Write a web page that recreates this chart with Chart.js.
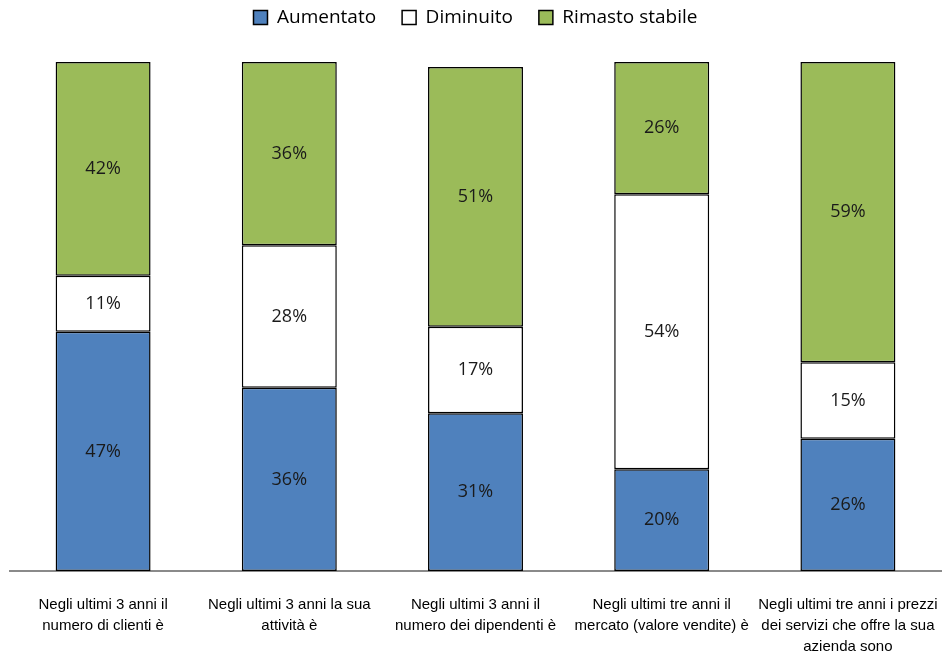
<!DOCTYPE html>
<html lang="it">
<head>
<meta charset="UTF-8">
<title>Andamento ultimi 3 anni</title>
<script src="https://cdn.jsdelivr.net/npm/chart.js"></script>
<style>
    html, body { margin: 0; padding: 0; background: #fff; overflow: hidden; }
    canvas { display: block; }
</style>
</head>
<body>
<canvas id="grafico" width="943" height="656"></canvas>
<script>
    const categorie = [
        ['Negli ultimi 3 anni il', 'numero di clienti è'],
        ['Negli ultimi 3 anni la sua', 'attività è'],
        ['Negli ultimi 3 anni il', 'numero dei dipendenti è'],
        ['Negli ultimi tre anni il', 'mercato (valore vendite) è'],
        ['Negli ultimi tre anni i prezzi', 'dei servizi che offre la sua', 'azienda sono']
    ];
    const aumentato = [47, 36, 31, 20, 26];
    const diminuito = [11, 28, 17, 54, 15];
    const rimastoStabile = [42, 36, 51, 26, 59];

    // scrive la percentuale al centro di ogni segmento
    const etichettePlugin = {
        id: 'etichette',
        afterDatasetsDraw(chart) {
            const ctx = chart.ctx;
            ctx.save();
            ctx.font = '18px "Open Sans", sans-serif';
            ctx.fillStyle = '#1a1a1a';
            ctx.textAlign = 'center';
            ctx.textBaseline = 'middle';
            chart.data.datasets.forEach((ds, i) => {
                chart.getDatasetMeta(i).data.forEach((bar, j) => {
                    const y = (bar.y + bar.base) / 2;
                    ctx.fillText(ds.data[j] + '%', bar.x, y);
                });
            });
            ctx.restore();
        }
    };

    // legenda alta 62px, voci spostate verso il bordo superiore
    const legendaPlugin = {
        id: 'legendaAltezza',
        beforeInit(chart) {
            const fit = chart.legend.fit;
            chart.legend.fit = function () {
                fit.bind(chart.legend)();
                this.height = 62;
            };
        },
        afterLayout(chart) {
            chart.legend.top = -18;
        }
    };

    const ctx = document.getElementById('grafico').getContext('2d');
    const grafico = new Chart(ctx, {
        type: 'bar',
        data: {
            labels: categorie,
            datasets: [{
                label: 'Aumentato',
                data: aumentato,
                backgroundColor: '#4F81BD'
            }, {
                label: 'Diminuito',
                data: diminuito,
                backgroundColor: '#FFFFFF'
            }, {
                label: 'Rimasto stabile',
                data: rimastoStabile,
                backgroundColor: '#9BBB59'
            }]
        },
        options: {
            responsive: false,
            animation: false,
            datasets: {
                bar: {
                    borderColor: '#000',
                    borderWidth: 1.5,
                    borderSkipped: false,
                    categoryPercentage: 1,
                    barPercentage: 0.51
                }
            },
            layout: { padding: { left: 10, right: 2, top: 0, bottom: 0 } },
            plugins: {
                legend: {
                    position: 'top',
                    labels: {
                        boxWidth: 14,
                        boxHeight: 14,
                        padding: 26,
                        color: '#000',
                        font: { family: '"Open Sans", sans-serif', size: 19 },
                        generateLabels(chart) {
                            return chart.data.datasets.map((ds, i) => ({
                                text: ds.label,
                                fillStyle: ds.backgroundColor,
                                strokeStyle: '#000',
                                lineWidth: 1.5,
                                datasetIndex: i
                            }));
                        }
                    }
                },
                tooltip: { enabled: false }
            },
            scales: {
                x: {
                    stacked: true,
                    grid: { display: false },
                    border: { color: '#8a8a8a', width: 2 },
                    ticks: {
                        color: '#000',
                        padding: 16,
                        maxRotation: 0,
                        autoSkip: false,
                        font: { family: '"Liberation Sans", Arial, sans-serif', size: 15, lineHeight: 1.38 }
                    },
                    afterFit(scale) {
                        // asse a tutta larghezza, etichette nei 85px in basso
                        scale.height = 85;
                        scale.paddingLeft = 0;
                        scale.paddingRight = 0;
                    }
                },
                y: {
                    stacked: true,
                    display: false,
                    min: 0,
                    max: 100
                }
            }
        },
        plugins: [etichettePlugin, legendaPlugin]
    });
</script>
</body>
</html>
